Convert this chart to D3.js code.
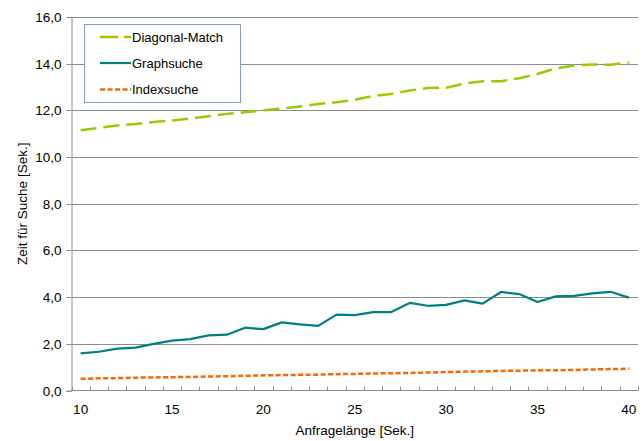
<!DOCTYPE html>
<html><head><meta charset="utf-8">
<script src="https://cdn.jsdelivr.net/npm/d3@7"></script>
<style>
html,body{margin:0;padding:0;background:#fff;}
svg text{font-family:"Liberation Sans",Arial,sans-serif;fill:#000;}
</style></head>
<body>
<svg id="c" width="643" height="441"></svg>
<script>
const categories = [10,11,12,13,14,15,16,17,18,19,20,21,22,23,24,25,26,27,28,29,30,31,32,33,34,35,36,37,38,39,40];
const diagonalMatch = [11.15,11.25,11.35,11.42,11.5,11.57,11.65,11.75,11.85,11.92,12.0,12.08,12.17,12.27,12.35,12.45,12.62,12.7,12.85,12.96,12.97,13.15,13.25,13.25,13.38,13.56,13.8,13.92,13.97,13.95,14.05];
const graphsuche = [1.59,1.66,1.79,1.84,2.0,2.14,2.2,2.36,2.39,2.69,2.63,2.92,2.83,2.77,3.25,3.23,3.36,3.36,3.75,3.63,3.67,3.86,3.72,4.22,4.13,3.79,4.03,4.05,4.16,4.23,3.98];
const indexsuche = [0.50,0.52,0.53,0.55,0.56,0.57,0.58,0.60,0.61,0.63,0.65,0.66,0.67,0.68,0.70,0.71,0.73,0.74,0.75,0.77,0.79,0.81,0.82,0.84,0.85,0.86,0.87,0.88,0.90,0.92,0.93];
const yTicks = [0,2,4,6,8,10,12,14,16];
const xTickLabels = [10,15,20,25,30,35,40];
const seriesNames = ["Diagonal-Match","Graphsuche","Indexsuche"];

const svg = d3.select("#c");
const L = 71.5, R = 638, T = 17, B = 390.5;
const x = d3.scaleBand().domain(categories).range([L, R]).padding(0);
const y = d3.scaleLinear().domain([0,16]).range([B, T]);
const cx = d => x(d) + x.bandwidth()/2;
const fmt = v => d3.format(".1f")(v).replace(".", ",");

// gridlines
svg.append("g").selectAll("line").data(yTicks.filter(d=>d>0)).join("line")
  .attr("x1", L).attr("x2", R)
  .attr("y1", d => Math.round(y(d))+0.5).attr("y2", d => Math.round(y(d))+0.5)
  .attr("stroke", "#8c8c8c").attr("stroke-width", 1);

// y axis
const yAxis = d3.axisLeft(y).tickValues(yTicks).tickFormat(fmt).tickSize(5).tickPadding(5);
const gy = svg.append("g").attr("transform", `translate(${L},0)`).call(yAxis);
gy.select(".domain").attr("stroke", "#8c8c8c");
gy.selectAll(".tick line").attr("stroke", "#8c8c8c");
gy.selectAll(".tick text").attr("font-size", "13.5px").attr("font-family", "Liberation Sans, Arial, sans-serif");
gy.selectAll(".tick").attr("transform", d => `translate(0,${Math.round(y(d))+0.5})`);

// x axis
svg.append("line").attr("x1", L).attr("x2", R).attr("y1", B).attr("y2", B).attr("stroke", "#8c8c8c");
const bounds = categories.map(c => x(c)).concat([x(categories[categories.length-1]) + x.bandwidth()]);
svg.append("g").selectAll("line").data(bounds).join("line")
  .attr("x1", d => Math.round(d)+0.5).attr("x2", d => Math.round(d)+0.5)
  .attr("y1", B).attr("y2", B-4).attr("stroke", "#8c8c8c");
const xAxis = d3.axisBottom(x).tickValues(xTickLabels).tickSize(0).tickPadding(14);
const gx = svg.append("g").attr("transform", `translate(0,${B})`).call(xAxis);
gx.select(".domain").remove();
gx.selectAll(".tick text").attr("font-size", "13.5px").attr("font-family", "Liberation Sans, Arial, sans-serif");

// axis titles
svg.append("text").attr("x", (L+R)/2).attr("y", 435).attr("text-anchor", "middle")
  .attr("font-size", "13.5px").text("Anfragelänge [Sek.]");
svg.append("text").attr("transform", `translate(27,${(T+B)/2}) rotate(-90)`).attr("text-anchor", "middle")
  .attr("font-size", "13.5px").text("Zeit für Suche [Sek.]");

// lines
const line = d3.line().x((d,i) => cx(categories[i])).y(d => y(d));
const styles = [
  {data: diagonalMatch, color: "#99cc00", width: 2.5, dash: "16,7"},
  {data: graphsuche, color: "#008080", width: 2.25, dash: null},
  {data: indexsuche, color: "#ff6600", width: 2.5, dash: "5,2.5"}
];
styles.forEach(s => {
  svg.append("path").datum(s.data).attr("d", line).attr("fill", "none")
    .attr("stroke", s.color).attr("stroke-width", s.width)
    .attr("stroke-dasharray", s.dash).attr("stroke-linejoin", "round");
});

// legend
const lg = svg.append("g");
lg.append("rect").attr("x", 84.5).attr("y", 24.5).attr("width", 156).attr("height", 78)
  .attr("fill", "#fff").attr("stroke", "#7f9fd0");
const ly = [37, 63, 89.5];
const ldash = ["18,6", null, "5,2.5"];
seriesNames.forEach((n, i) => {
  lg.append("line").attr("x1", 100).attr("x2", 131).attr("y1", ly[i]).attr("y2", ly[i])
    .attr("stroke", styles[i].color).attr("stroke-width", styles[i].width).attr("stroke-dasharray", ldash[i]);
  lg.append("text").attr("x", 132).attr("y", ly[i]).attr("dy", "0.35em").attr("font-size", "13px").text(n);
});
</script>
</body></html>
